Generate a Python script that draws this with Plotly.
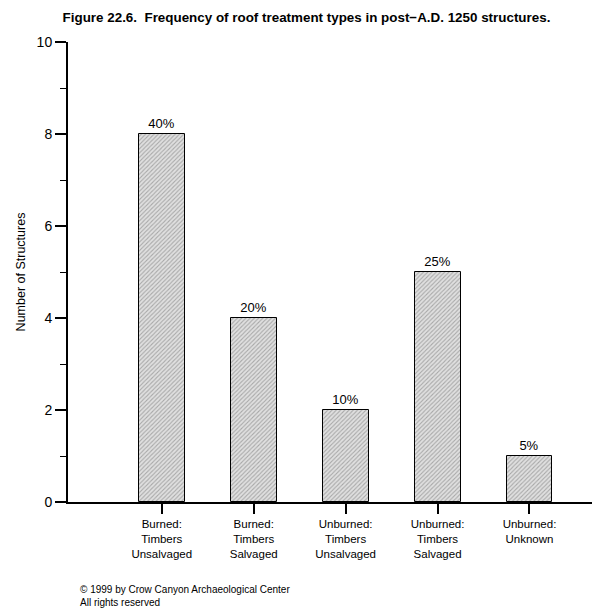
import plotly.graph_objects as go

categories = ["Burned:<br>Timbers<br>Unsalvaged", "Burned:<br>Timbers<br>Salvaged",
              "Unburned:<br>Timbers<br>Unsalvaged", "Unburned:<br>Timbers<br>Salvaged",
              "Unburned:<br>Unknown"]
counts = [8, 4, 2, 5, 1]
percent_labels = ["40%", "20%", "10%", "25%", "5%"]
y_ticks = [0, 2, 4, 6, 8, 10]

FONT = "Liberation Sans, Arial, sans-serif"

W, H = 597, 606
L, R, T, B = 54, 13, 34, 112
pw, ph = W - L - R, H - T - B

fig = go.Figure()
fig.add_trace(go.Bar(
    x=list(range(len(categories))), y=counts,
    width=0.5,
    text=percent_labels, textposition="outside",
    textfont=dict(family=FONT, size=13, color="black"),
    cliponaxis=False,
    marker=dict(
        color="#dcdcdc",
        line=dict(color="black", width=1),
        pattern=dict(shape="/", fgcolor="#707070", bgcolor="#e0e0e0", size=3, solidity=0.35),
    ),
))

fig.update_layout(
    width=W, height=H,
    margin=dict(l=L, r=R, t=T, b=B),
    plot_bgcolor="white", paper_bgcolor="white",
    showlegend=False,
    bargap=0,
    font=dict(family=FONT, size=12, color="black"),
    title=dict(text="<b>Figure 22.6.  Frequency of roof treatment types in post\u2212A.D. 1250 structures.</b>",
               x=0.5, xanchor="center", y=1 - 9 / H, yanchor="middle",
               font=dict(family=FONT, size=13.4, color="black")),
    xaxis=dict(
        range=[-1.02, 4.68],
        tickmode="array", tickvals=list(range(len(categories))), ticktext=categories,
        ticks="outside", ticklen=10, tickwidth=1.5, tickcolor="black",
        showline=True, linecolor="black", linewidth=2,
        showgrid=False, zeroline=False,
        tickfont=dict(family=FONT, size=11.5, color="black"),
    ),
    yaxis=dict(
        range=[0, 10],
        tickmode="array", tickvals=y_ticks,
        ticks="outside", ticklen=11, tickwidth=2, tickcolor="black",
        minor=dict(ticks="outside", ticklen=6, tickwidth=1, tickcolor="black", dtick=1, showgrid=False),
        showline=True, linecolor="black", linewidth=2,
        showgrid=False, zeroline=False,
        tickfont=dict(family=FONT, size=14, color="black"),
        title=dict(text="Number of Structures", font=dict(family=FONT, size=12.5, color="black"), standoff=8),
    ),
)

fig.add_annotation(
    text="\u00a9 1999 by Crow Canyon Archaeological Center<br>All rights reserved",
    xref="paper", yref="paper", x=(64 - L) / pw, y=-(588 - (H - B)) / ph,
    xanchor="left", yanchor="middle", align="left", showarrow=False,
    font=dict(family=FONT, size=10, color="black"),
)

fig.write_html("out.html")
